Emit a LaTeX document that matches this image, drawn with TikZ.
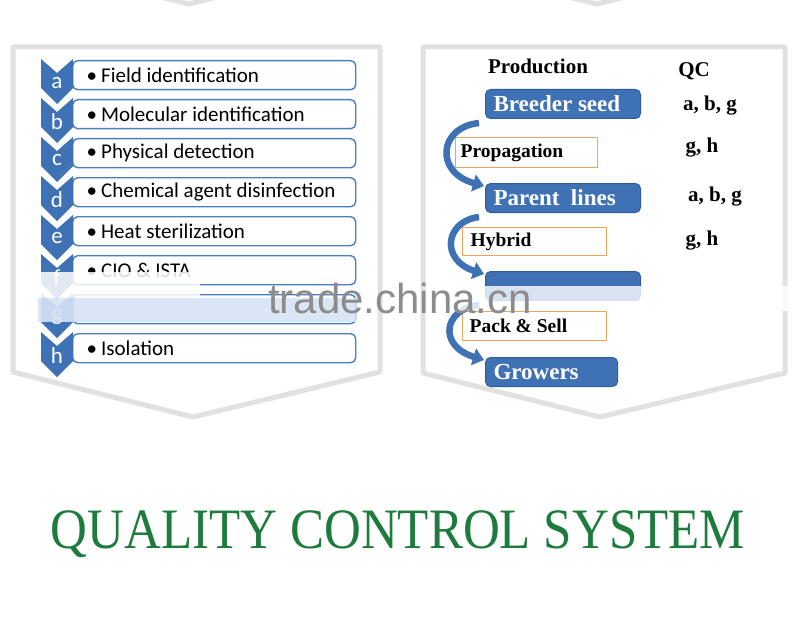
\documentclass[tikz,border=0pt]{standalone}
\usepackage{fontspec}
\setmainfont{Liberation Serif}
\newfontfamily\calibrifont{Carlito}
\newfontfamily\wmfont{Liberation Sans}
\usetikzlibrary{arrows.meta,calc,positioning}
\definecolor{qcblue}{HTML}{3F72B5}
\definecolor{qcbluedark}{HTML}{2E5D9B}
\definecolor{rowblue}{HTML}{4B7DC0}
\definecolor{qcorange}{HTML}{EFA45E}
\definecolor{panelgray}{HTML}{E1E1E1}
\definecolor{qcgreen}{HTML}{1D7B3D}
\definecolor{fogblue}{HTML}{D6E3F4}

\begin{document}
\begin{tikzpicture}[
  x=1pt, y=-1pt, line join=round,
  every node/.style={inner sep=0pt},
  panel/.style  ={draw=panelgray, line width=5pt, fill=white},
  chev/.style   ={fill=qcblue},
  rowbox/.style ={draw=rowblue, line width=1.4pt, fill=white, rounded corners=5pt,
                  anchor=north west, minimum height=29pt, text width=255pt,
                  inner xsep=14pt, align=flush left,
                  font=\calibrifont\fontsize{21}{24}\selectfont},
  letter/.style ={text=white, font=\calibrifont\fontsize{23}{26}\selectfont},
  stage/.style  ={fill=qcblue, draw=qcbluedark, line width=1pt, rounded corners=5pt,
                  anchor=north west, minimum height=29pt, inner xsep=8pt, align=flush left,
                  text=white, font=\bfseries\fontsize{23}{26}\selectfont},
  procbox/.style={draw=qcorange, line width=1.4pt, fill=white, anchor=north west,
                  align=flush left, font=\bfseries\fontsize{19.5}{22}\selectfont},
  qc/.style     ={font=\bfseries\fontsize{21}{24}\selectfont},
  flow/.style   ={qcblue, line width=6.5pt, -{Triangle[width=17pt,length=11pt]}},
  fog/.style    ={fill=white, opacity=0.85}
]

\def\Ttop{59}    % top of chevron a
\def\Tstep{39}   % row pitch
\newcommand\bul{\textbullet\hspace{4pt}}

\path[use as bounding box, fill=white] (0,0) rectangle (800,623);
\clip (0,0) rectangle (800,623);

% --- tips of the panels above
\draw[panelgray, line width=5pt] (149,-6) -- (189,4) -- (229,-6);
\draw[panelgray, line width=5pt] (557,-6) -- (597,4) -- (637,-6);

% --- the two panels
\draw[panel] (13,47) -- (380,47) -- (380,372) -- (193,417) -- (13,372) -- cycle;
\draw[panel] (423,47) -- (785,47) -- (785,373) -- (600,417) -- (423,373) -- cycle;

% --- left panel: chevron list
\foreach \ltr/\txt [count=\i from 0] in {a/\bul Field identification,
    b/\bul Molecular identification, c/\bul Physical detection,
    d/\bul Chemical agent disinfection, e/\bul Heat sterilization,
    f/\bul CIO \& ISTA, g/{}, h/\bul Isolation}
{
  \pgfmathsetmacro{\T}{\Ttop+\i*\Tstep}
  \node[rowbox] (row-\ltr) at (72,\T+1) {\txt};
  \fill[chev] (41,\T) -- (57,\T+14) -- (73,\T) -- (73,\T+29)
              -- (57,\T+45) -- (41,\T+29) -- cycle;
  \node[letter] (ltr-\ltr) at (57,\T+23.5) {\ltr};
}

% --- right panel: production chain
\node[font=\bfseries\fontsize{21}{24}\selectfont] (prod) at (538,66) {Production};
\node[qc] (qchead) at (694,71) {QC};

\node[stage, text width=139pt] (bs) at (485,89)  {Breeder seed};
\node[stage, text width=139pt] (pl) at (485,183) {Parent\ \ lines};
\node[stage, text width=139pt] (hs) at (485,271) {};
\node[stage, text width=116pt] (gr) at (485,357) {Growers};

\node[procbox, text width=132pt, inner xsep=5pt, minimum height=30pt] (prop) at (455,137) {Propagation};
\node[procbox, text width=128pt, inner xsep=8pt, minimum height=28pt] (hyb)  at (462,227) {Hybrid};
\node[procbox, text width=130pt, inner xsep=7pt, minimum height=29pt] (pack) at (462,311) {Pack \& Sell};

\node[qc] (qc-bs)   at (710,106) {a, b, g};
\node[qc] (qc-prop) at (702,148) {g, h};
\node[qc] (qc-pl)   at (715,197) {a, b, g};
\node[qc] (qc-hyb)  at (702,241) {g, h};

% curved arrows down the chain
\draw[flow] ([xshift=-6pt,yshift=-4pt]bs.south west) .. controls +(-40,4) and +(-50,-14) .. ([xshift=-1pt,yshift=-3pt]pl.north west);
\draw[flow] ([xshift=-6pt,yshift=-4pt]pl.south west) .. controls +(-34,4) and +(-44,-14) .. ([xshift=-1pt,yshift=-3pt]hs.north west);
\draw[flow] ([xshift=-6pt,yshift=-4pt]hs.south west) .. controls +(-36,4) and +(-46,-14) .. ([xshift=-1pt,yshift=-3pt]gr.north west);

% --- watermark band
\fill[fog] (38,272) rectangle (200,298);
\fill[fogblue, opacity=0.9] (38,298) rectangle (356,322);
\fill[fog, opacity=0.8] (440,286) rectangle (790,311);
\node[anchor=base, text=black!45, font=\wmfont\fontsize{42}{46}\selectfont] (wm) at (400,313) {trade.china.cn};

% --- title
\node[anchor=base, text=qcgreen, font=\fontsize{51}{56}\selectfont] (title) at (398,548)
  {\scalebox{1}[1.12]{QUALITY CONTROL SYSTEM}};

\end{tikzpicture}
\end{document}
